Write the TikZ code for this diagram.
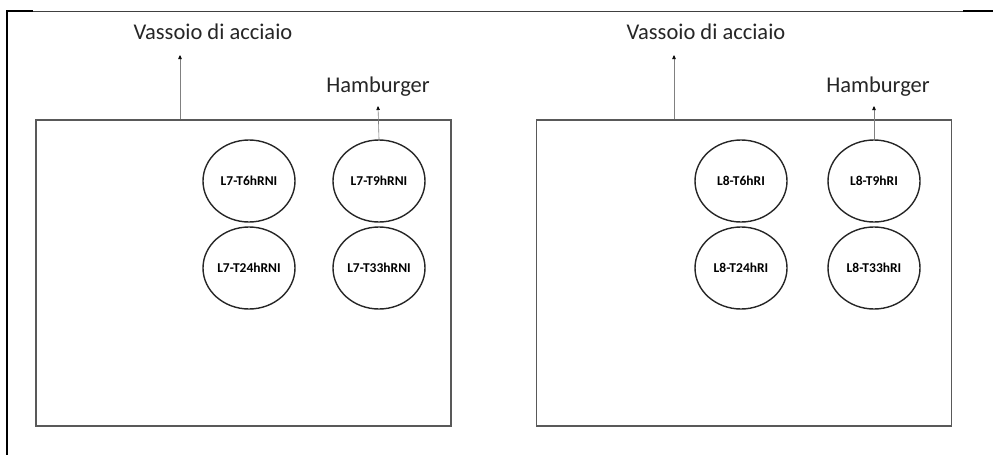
\documentclass[tikz,border=0pt]{standalone}
\usepackage{fontspec}
\setmainfont{Carlito}
\usetikzlibrary{arrows.meta,shapes.geometric}

\begin{document}
\begin{tikzpicture}[
		x=1pt, y=-1pt,
		tray/.style={rectangle, draw=black!65, line width=1.3pt, minimum width=415pt, minimum height=306pt, inner sep=0pt},
		sample/.style={ellipse, draw=black!85, line width=1.4pt, minimum width=92pt, minimum height=82pt, inner sep=0pt, font=\fontsize{13.5}{15}\selectfont\bfseries},
		tag/.style={font=\fontsize{22.5}{26}\selectfont, text=black!85, inner sep=1pt},
		arrow/.style={draw=black!50, line width=0.6pt, -{Triangle[length=4pt,width=3.5pt,color=black]}}
		]
		\useasboundingbox (0,0) rectangle (993,455);
		
		% outer frame
		\draw[line width=2pt] (7,455) -- (7,11) -- (33,11);
		\draw[line width=0.8pt, black!75] (33,11) -- (963,11);
		\draw[line width=2pt] (963,11) -- (993,11);
		
		% left tray
		\node (trayL) at (243.5,273) [tray] {};
		\node (t6L) at (249,181) [sample] {L7-T6hRNI};
		\node (t9L) at (379,181) [sample] {L7-T9hRNI};
		\node (t24L) at (249,268) [sample] {L7-T24hRNI};
		\node (t33L) at (379,268) [sample] {L7-T33hRNI};
		\node (vassL) at (213,32) [tag] {Vassoio di acciaio};
		\node (hambL) at (378,87) [tag] {Hamburger};
		\coordinate (vassLend) at (180,55);
		\coordinate (hambLend) at (378,106);
		
		% right tray
		\node (trayR) at (744,273) [tray] {};
		\node (t6R) at (741,181) [sample] {L8-T6hRI};
		\node (t9R) at (874,181) [sample] {L8-T9hRI};
		\node (t24R) at (741,268) [sample] {L8-T24hRI};
		\node (t33R) at (874,268) [sample] {L8-T33hRI};
		\node (vassR) at (706,32) [tag] {Vassoio di acciaio};
		\node (hambR) at (878,87) [tag] {Hamburger};
		\coordinate (vassRend) at (674,55);
		\coordinate (hambRend) at (874,106);
		
		\draw [arrow] (trayL.north -| vassLend) -- (vassLend);
		\draw [arrow] (t9L.north) -- (hambLend);
		\draw [arrow] (trayR.north -| vassRend) -- (vassRend);
		\draw [arrow] (t9R.north) -- (hambRend);
	\end{tikzpicture}
\end{document}
